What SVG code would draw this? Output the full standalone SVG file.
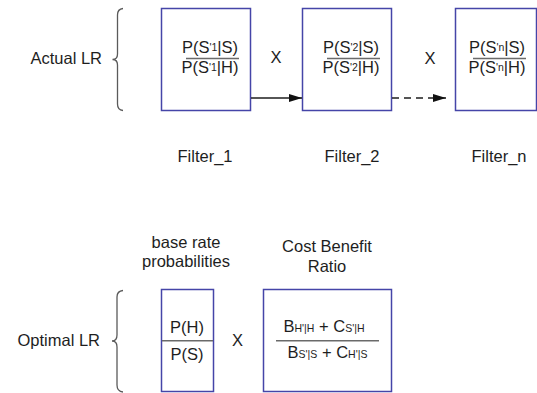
<svg xmlns="http://www.w3.org/2000/svg" width="537" height="393" viewBox="0 0 537 393">
<defs>
<style>
text{font-family:"Liberation Sans",Arial,sans-serif;font-size:16.5px;fill:#1e1e1e}
.c{text-anchor:middle}
.e{text-anchor:end}
.s{font-size:10.5px}
.box{fill:#fff;stroke:#4545a8;stroke-width:1.5}
.frac{stroke:#6a6a6a;stroke-width:1.6}
.brace{fill:none;stroke:#5a5a5a;stroke-width:1.3}
.conn{stroke:#1e1e1e;stroke-width:1.3;fill:none}
</style>
<marker id="ah" viewBox="0 0 13 8" refX="13" refY="4" markerWidth="13" markerHeight="8" markerUnits="userSpaceOnUse" orient="auto">
<path d="M0,0 L13,4 L0,8 z" fill="#111"/>
</marker>
</defs>
<rect width="537" height="393" fill="#fff"/>

<g id="actual-lr-label">
<text class="e" x="102" y="64">Actual LR</text>
<path class="brace" d="M123,8.5 Q117.5,9 117.5,15 L117.5,54 Q117.5,59.5 112.5,59.5 Q117.5,59.5 117.5,65 L117.5,104 Q117.5,110 123,110.5"/>
</g>

<g id="filter1">
<rect class="box" x="161.5" y="8.5" width="89" height="102"/>
<text class="c" x="210" y="53">P(S<tspan class="s" dy="-2">'1</tspan><tspan dy="2">|S)</tspan></text>
<line class="frac" x1="186" y1="58.5" x2="239" y2="58.5"/>
<text class="c" x="210" y="72.5">P(S<tspan class="s" dy="-2">'1</tspan><tspan dy="2">|H)</tspan></text>
<text class="c" x="205" y="162">Filter_1</text>
</g>

<g id="filter2">
<rect class="box" x="302.5" y="8.5" width="89" height="102"/>
<text class="c" x="351" y="53">P(S<tspan class="s" dy="-2">'2</tspan><tspan dy="2">|S)</tspan></text>
<line class="frac" x1="327" y1="58.5" x2="380" y2="58.5"/>
<text class="c" x="351" y="72.5">P(S<tspan class="s" dy="-2">'2</tspan><tspan dy="2">|H)</tspan></text>
<text class="c" x="352" y="162">Filter_2</text>
</g>

<g id="filtern">
<rect class="box" x="455.5" y="8.5" width="81" height="102"/>
<text class="c" x="497" y="53">P(S<tspan class="s" dy="-2">'n</tspan><tspan dy="2">|S)</tspan></text>
<line class="frac" x1="473" y1="58.5" x2="526" y2="58.5"/>
<text class="c" x="497" y="72.5">P(S<tspan class="s" dy="-2">'n</tspan><tspan dy="2">|H)</tspan></text>
<text class="c" x="499" y="162">Filter_n</text>
</g>

<g id="operators">
<text class="c" x="276" y="63">X</text>
<text class="c" x="430" y="64">X</text>
<text class="c" x="237.5" y="345.5">X</text>
</g>

<g id="connectors">
<line class="conn" x1="251" y1="98" x2="302" y2="98" marker-end="url(#ah)"/>
<line class="conn" x1="392" y1="98" x2="446" y2="98" stroke-dasharray="7,5" marker-end="url(#ah)"/>
</g>

<g id="optimal-lr-label">
<text class="e" x="100" y="346">Optimal LR</text>
<path class="brace" d="M123,290.5 Q117,291 117,297 L117,335 Q117,341 112,341 Q117,341 117,347 L117,385 Q117,391.5 123,392"/>
</g>

<g id="base-rate">
<text class="c" x="186" y="248">base rate</text>
<text class="c" x="186" y="267">probabilities</text>
<rect class="box" x="161.5" y="289.5" width="52" height="102"/>
<line class="frac" x1="162" y1="340.7" x2="213" y2="340.7"/>
<text class="c" x="187" y="333">P(H)</text>
<text class="c" x="187" y="359.5">P(S)</text>
</g>

<g id="cost-benefit">
<text class="c" x="327" y="252">Cost Benefit</text>
<text class="c" x="327" y="272">Ratio</text>
<rect class="box" x="263.5" y="289.5" width="128" height="102"/>
<text class="c" x="324" y="331.5">B<tspan class="s">H'|H</tspan> + C<tspan class="s">S'|H</tspan></text>
<line class="frac" x1="276" y1="340.7" x2="379" y2="340.7"/>
<text class="c" x="327.5" y="358">B<tspan class="s">S'|S</tspan> + C<tspan class="s">H'|S</tspan></text>
</g>
</svg>
